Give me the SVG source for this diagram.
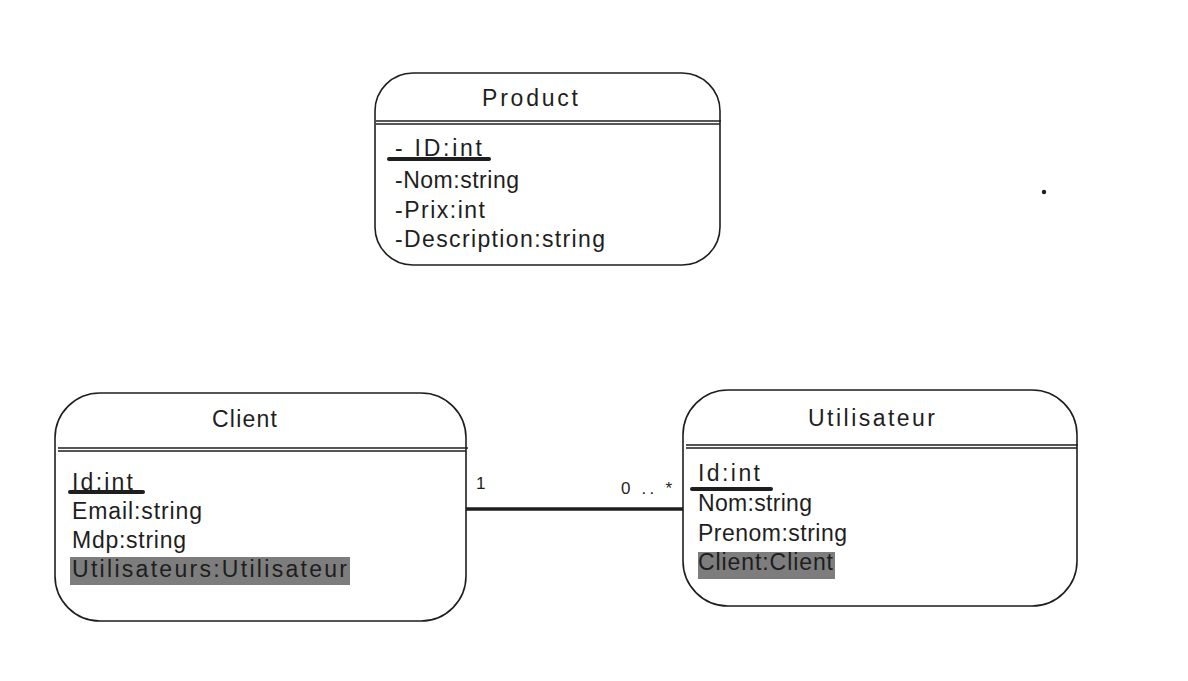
<svg xmlns="http://www.w3.org/2000/svg" width="1188" height="681" viewBox="0 0 1188 681">
<style>
.box{fill:#fff;stroke:#1e1e1e;stroke-width:1.6}
.div{stroke:#1e1e1e;stroke-width:1.4;fill:none}
.t{font-family:"Liberation Sans",Arial,sans-serif;font-size:23px;fill:#1e1e1e}
.ul{stroke:#1e1e1e;stroke-width:4;stroke-linecap:round}
.hl{fill:#7d7d7d}
.lbl{font-family:"Liberation Sans",Arial,sans-serif;font-size:17px;fill:#1e1e1e}
</style>
<rect width="1188" height="681" fill="#fff"/>
<g id="connectors">
<line x1="462" y1="509" x2="686" y2="509" stroke="#1e1e1e" stroke-width="3.5"/>
<text class="lbl" x="476" y="489">1</text>
<text class="lbl" x="621" y="494" textLength="51" lengthAdjust="spacing">0 .. *</text>
</g>
<g id="product">
<rect class="box" x="375" y="73" width="345" height="192" rx="38"/>
<line class="div" x1="376" y1="121" x2="721" y2="121"/>
<line class="div" x1="376" y1="124" x2="720" y2="124"/>
<text class="t" x="482" y="106" textLength="96" lengthAdjust="spacing">Product</text>
<text class="t" x="395" y="156" textLength="87" lengthAdjust="spacing">- ID:int</text>
<line class="ul" x1="389" y1="159" x2="489" y2="159"/>
<text class="t" x="395" y="188" textLength="124" lengthAdjust="spacing">-Nom:string</text>
<text class="t" x="395" y="218" textLength="90" lengthAdjust="spacing">-Prix:int</text>
<text class="t" x="395" y="247" textLength="210" lengthAdjust="spacing">-Description:string</text>
</g>
<g id="client">
<rect class="box" x="55" y="393" width="411" height="228" rx="45"/>
<line class="div" x1="58" y1="448" x2="468" y2="448"/>
<line class="div" x1="58" y1="451" x2="466" y2="451"/>
<text class="t" x="212" y="427" textLength="65" lengthAdjust="spacing">Client</text>
<rect class="hl" x="70" y="557" width="280" height="28"/>
<text class="t" x="72" y="490" textLength="61" lengthAdjust="spacing">Id:int</text>
<line class="ul" x1="70" y1="492" x2="143" y2="492"/>
<text class="t" x="72" y="519" textLength="130" lengthAdjust="spacing">Email:string</text>
<text class="t" x="72" y="548" textLength="114" lengthAdjust="spacing">Mdp:string</text>
<text class="t" x="72" y="577" textLength="275" lengthAdjust="spacing">Utilisateurs:Utilisateur</text>
</g>
<g id="utilisateur">
<rect class="box" x="683" y="390" width="394" height="216" rx="45"/>
<line class="div" x1="686" y1="445" x2="1078" y2="445"/>
<line class="div" x1="686" y1="448" x2="1077" y2="448"/>
<text class="t" x="808" y="426" textLength="127" lengthAdjust="spacing">Utilisateur</text>
<rect class="hl" x="698" y="552" width="137" height="27"/>
<text class="t" x="698" y="481" textLength="62" lengthAdjust="spacing">Id:int</text>
<line class="ul" x1="692" y1="489" x2="771" y2="489"/>
<text class="t" x="698" y="511" textLength="114" lengthAdjust="spacing">Nom:string</text>
<text class="t" x="698" y="541" textLength="149" lengthAdjust="spacing">Prenom:string</text>
<text class="t" x="698" y="570" textLength="135" lengthAdjust="spacing">Client:Client</text>
</g>
<g id="dot">
<circle cx="1044" cy="192" r="2.2" fill="#1e1e1e"/>
</g>
</svg>
